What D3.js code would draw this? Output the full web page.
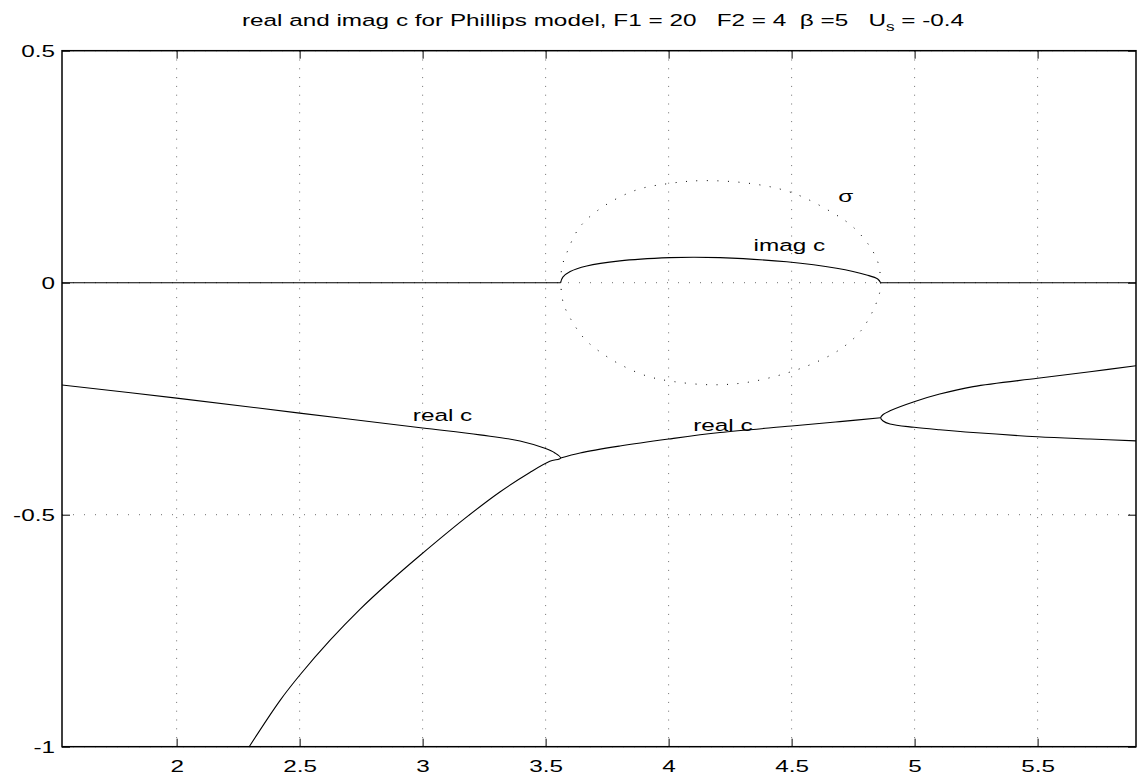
<!DOCTYPE html>
<html>
<head>
<meta charset="utf-8">
<script src="https://cdn.jsdelivr.net/npm/d3@7"></script>
<style>
  html, body { margin: 0; padding: 0; background: #fff; }
  svg { display: block; }
  text { font-family: "Liberation Sans", Arial, Helvetica, sans-serif; fill: #000; }
</style>
</head>
<body>
<svg id="chart" width="1138" height="775"></svg>
<script>
// ---------------- data ----------------
const kDomain = [1.534, 5.9];
const cDomain = [-1, 0.5];
const xTicks = [2, 2.5, 3, 3.5, 4, 4.5, 5, 5.5];
const xTickLabels = ["2", "2.5", "3", "3.5", "4", "4.5", "5", "5.5"];
const yTicks = [0.5, 0, -0.5, -1];
const yTickLabels = ["0.5", "0", "-0.5", "-1"];

// real c, two real roots left of the first junction
const realLeftK     = [1.534, 2.0, 2.5, 3.0, 3.233, 3.396, 3.497, 3.538, 3.561];
const realLeftUpper = [-0.2205, -0.2487, -0.281, -0.313, -0.328, -0.341, -0.357, -0.367, -0.378];
const realLowK      = [2.295, 2.420, 2.501, 2.623, 2.745, 2.867, 2.989, 3.172, 3.314, 3.436, 3.517, 3.561];
const realLowC      = [-1.0, -0.9006, -0.8455, -0.771, -0.704, -0.644, -0.588, -0.508, -0.451, -0.409, -0.385, -0.378];
// real c of the complex pair
const realMidK      = [3.561, 3.640, 3.802, 4.0, 4.209, 4.5, 4.696, 4.862];
const realMidC      = [-0.378, -0.367, -0.352, -0.337, -0.323, -0.309, -0.2995, -0.291];
// real c, two real roots right of the second junction
const realRightK     = [4.862, 4.872, 4.900, 4.998, 5.102, 5.238, 5.5, 5.713, 5.9];
const realRightUpper = [-0.291, -0.284, -0.276, -0.2565, -0.240, -0.224, -0.206, -0.192, -0.179];
const realRightLower = [-0.291, -0.298, -0.3045, -0.3116, -0.317, -0.323, -0.332, -0.337, -0.341];

// imag c
const imagZeroLeftK  = [1.534, 3.561];
const imagZeroRightK = [4.862, 5.9];
const imagK = [3.561, 3.570, 3.600, 3.667, 3.802, 4.005, 4.10, 4.209, 4.480, 4.683, 4.805, 4.850, 4.862];
const imagC = [0, 0.012, 0.024, 0.036, 0.047, 0.054, 0.055, 0.054, 0.045, 0.031, 0.0166, 0.008, 0];

// sigma (growth rate), upper and lower
const sigmaUpK = [3.561, 3.566, 3.585, 3.639, 3.734, 3.870, 4.005, 4.141, 4.344, 4.507, 4.669, 4.750, 4.818, 4.852, 4.862];
const sigmaUp  = [0, 0.033, 0.063, 0.12, 0.164, 0.2, 0.214, 0.22, 0.213, 0.193, 0.15, 0.12, 0.078, 0.042, 0];
const sigmaLowK = [3.561, 3.572, 3.606, 3.660, 3.721, 3.802, 3.911, 4.019, 4.175, 4.317, 4.466, 4.588, 4.696, 4.778, 4.832, 4.859, 4.862];
const sigmaLow  = [0, -0.044, -0.082, -0.122, -0.149, -0.176, -0.201, -0.213, -0.22, -0.215, -0.197, -0.174, -0.144, -0.106, -0.059, -0.019, 0];

const titleMain = "real and imag c for Phillips model, F1 = 20   F2 = 4  \u03B2 =5   U";
const titleSub = "s";
const titleEnd = " = -0.4";
const curveLabels = [
  {text: "real c", k: 2.96, c: -0.298},
  {text: "real c", k: 4.10, c: -0.319},
  {text: "imag c", k: 4.345, c: 0.068},
  {text: "\u03C3", k: 4.69, c: 0.174}
];

// ---------------- layout ----------------
const W = 1138, H = 775;
const plot = {left: 62, right: 1136, top: 50.7, bottom: 746.7};
const SX = 1.43;        // horizontal stretch of the reference's lettering
const FS = 17;

const svg = d3.select("#chart");
const x = d3.scaleLinear().domain(kDomain).range([plot.left, plot.right]);
const y = d3.scaleLinear().domain(cDomain).range([plot.bottom, plot.top]);

const zip = (a, b) => a.map((v, i) => [v, b[i]]);

// grid
const grid = svg.append("g");
grid.selectAll("line.vx").data(xTicks).join("line")
  .attr("x1", d => x(d)).attr("x2", d => x(d))
  .attr("y1", plot.top).attr("y2", plot.bottom)
  .attr("stroke", "#6e6e6e").attr("stroke-width", 1)
  .attr("stroke-dasharray", "1,7.8");
grid.selectAll("line.hy").data(yTicks).join("line")
  .attr("x1", plot.left).attr("x2", plot.right)
  .attr("y1", d => y(d)).attr("y2", d => y(d))
  .attr("stroke", "#6e6e6e").attr("stroke-width", 1)
  .attr("stroke-dasharray", "1,10");

// clip
svg.append("clipPath").attr("id", "clip").append("rect")
  .attr("x", plot.left).attr("y", plot.top)
  .attr("width", plot.right - plot.left).attr("height", plot.bottom - plot.top);

const curves = svg.append("g").attr("clip-path", "url(#clip)");
const smooth = d3.line().x(d => x(d[0])).y(d => y(d[1])).curve(d3.curveCatmullRom.alpha(0.5));
const straight = d3.line().x(d => x(d[0])).y(d => y(d[1]));

const solid = (pts, gen) => curves.append("path").attr("d", gen(pts))
  .attr("fill", "none").attr("stroke", "#000").attr("stroke-width", 1.1);

// imag c
solid(imagZeroLeftK.map(k => [k, 0]), straight);
solid(imagZeroRightK.map(k => [k, 0]), straight);
solid(zip(imagK, imagC), smooth);

// real c
const leftLoop = zip(realLeftK, realLeftUpper).concat(zip(realLowK, realLowC).reverse().slice(1));
solid(leftLoop, smooth);
solid(zip(realMidK, realMidC), smooth);
const rightLoop = zip(realRightK, realRightUpper).reverse().concat(zip(realRightK, realRightLower).slice(1));
solid(rightLoop, smooth);

// sigma (dotted loop)
const sigmaLoop = zip(sigmaUpK, sigmaUp).concat(zip(sigmaLowK, sigmaLow).reverse().slice(1));
curves.append("path").attr("d", smooth(sigmaLoop))
  .attr("fill", "none").attr("stroke", "#000").attr("stroke-width", 1)
  .attr("stroke-dasharray", "1,9.5");

// axes
const fontAttrs = sel => sel.attr("font-size", FS)
  .attr("font-family", "'Liberation Sans', Arial, Helvetica, sans-serif").attr("fill", "#000");

const bottomAxis = svg.append("g").attr("transform", `translate(0,${plot.bottom})`)
  .call(d3.axisBottom(x).tickValues(xTicks).tickFormat((d, i) => xTickLabels[i])
    .tickSizeInner(-8).tickSizeOuter(0).tickPadding(13));
bottomAxis.selectAll("text").call(fontAttrs).attr("transform", `scale(${SX},1)`);

const leftAxis = svg.append("g").attr("transform", `translate(${plot.left},0)`)
  .call(d3.axisLeft(y).tickValues(yTicks).tickFormat((d, i) => yTickLabels[i])
    .tickSizeInner(-8).tickSizeOuter(0).tickPadding(7));
leftAxis.selectAll("text").call(fontAttrs)
  .attr("x", -7 / SX).attr("transform", `scale(${SX},1)`);

svg.append("g").attr("transform", `translate(0,${plot.top})`)
  .call(d3.axisTop(x).tickValues(xTicks).tickFormat("").tickSizeInner(-8).tickSizeOuter(0));
svg.append("g").attr("transform", `translate(${plot.right},0)`)
  .call(d3.axisRight(y).tickValues(yTicks).tickFormat("").tickSizeInner(-8).tickSizeOuter(0));

svg.selectAll(".domain").remove();
svg.selectAll(".tick line").attr("stroke", "#000").attr("stroke-width", 1);

// box
svg.append("rect").attr("x", plot.left).attr("y", plot.top)
  .attr("width", plot.right - plot.left).attr("height", plot.bottom - plot.top)
  .attr("fill", "none").attr("stroke", "#000").attr("stroke-width", 1.5);

// curve labels
curveLabels.forEach(l => {
  svg.append("g").attr("transform", `translate(${x(l.k)},${y(l.c)}) scale(${SX},1)`)
    .append("text").attr("font-size", FS).text(l.text);
});

// title
const tg = svg.append("g").attr("transform", `translate(${(plot.left + plot.right) / 2 + 4},26) scale(${SX},1)`);
const tt = tg.append("text").attr("text-anchor", "middle").attr("font-size", FS)
  .style("white-space", "pre");
tt.append("tspan").text(titleMain);
tt.append("tspan").attr("font-size", 12).attr("dy", 5).text(titleSub);
tt.append("tspan").attr("dy", -5).text(titleEnd);
</script>
</body>
</html>
